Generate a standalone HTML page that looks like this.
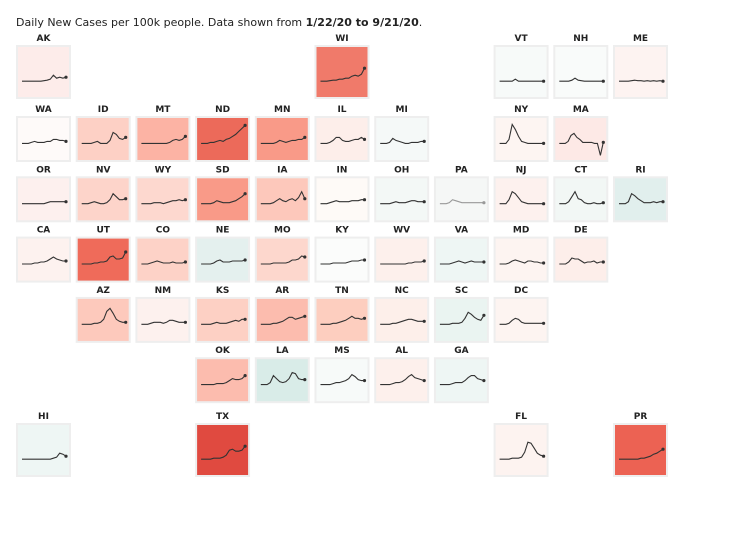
<!DOCTYPE html>
<html><head><meta charset="utf-8"><style>
body{margin:0;background:#fff;width:733px;height:544px;overflow:hidden;font-family:"DejaVu Sans","Liberation Sans",sans-serif}
</style></head><body>
<svg id="chart" width="733" height="544" xmlns="http://www.w3.org/2000/svg">
<text x="16" y="26" font-size="11" fill="#222">Daily New Cases per 100k people. Data shown from <tspan font-weight="bold">1/22/20 to 9/21/20</tspan>.</text>
</svg>
<script>
const states=["AK","WI","VT","NH","ME","WA","ID","MT","ND","MN","IL","MI","NY","MA","OR","NV","WY","SD","IA","IN","OH","PA","NJ","CT","RI","CA","UT","CO","NE","MO","KY","WV","VA","MD","DE","AZ","NM","KS","AR","TN","NC","SC","DC","OK","LA","MS","AL","GA","HI","TX","FL","PR"];
const cols=[0,5,8,9,10,0,1,2,3,4,5,6,8,9,0,1,2,3,4,5,6,7,8,9,10,0,1,2,3,4,5,6,7,8,9,1,2,3,4,5,6,7,8,3,4,5,6,7,0,3,8,10];
const rows=[0,0,0,0,0,1,1,1,1,1,1,1,1,1,2,2,2,2,2,2,2,2,2,2,2,3,3,3,3,3,3,3,3,3,3,4,4,4,4,4,4,4,4,5,5,5,5,5,6,6,6,6];
const fills=["#fdecea","#f07a6a","#f7faf9","#f9fbfa","#fdf3f1","#fefaf9","#fdd0c5","#fcb3a4","#ec6a5a","#f99a88","#fdeeea","#f5f9f8","#fdf5f2","#fde9e6","#fdf0ee","#fdd4ca","#fdd8cf","#f99a88","#fdc8bb","#fefaf7","#f3f8f6","#f5f7f6","#fdf1ee","#f2f7f5","#e1efed","#fdf2ef","#ef6b5a","#fdd2c7","#e4f0ee","#fdd7cd","#fbfcfb","#fdf0ec","#eef6f4","#fdf4f1","#fdeeea","#fdc9bc","#fdf1ee","#fdd0c4","#fcbcae","#fdcebf","#fdefea","#eaf4f1","#fdf4f1","#fcbcae","#d9ece8","#f7faf9","#fdf0ec","#eef6f4","#eef6f4","#e04a40","#fdf3f0","#ec6253"];
const AK=[0,0,0,0,0,0,0,0.5,1,2,6,3,4,3,4];
const WI=[0,0,0,0.5,1,1,2,2,3,3,5,6,5,7,13];
const VT=[0,0,0,0,0,2,0,0,0,0,0,0,0,0,0];
const NH=[0,0,0,0,1,3,1,0.5,0,0,0,0,0,0,0];
const ME=[0,0,0,0,0.5,1,0.5,0.5,0,0.5,0,0.5,0,0.5,0];
const WA=[0,0,0,1,2,1,1,1,2,2,4,4,3,3,2];
const ID=[0,0,0,0,1,2,0,0,0,3,11,9,5,4,6];
const MT=[0,0,0,0,0,0,0,0,0,1,3,4,3,4,7];
const ND=[0,0,0,1,1,2,3,2,4,5,7,9,12,15,18];
const MN=[0,0,0,0,0,1,3,2,1,2,3,3,4,4,6];
const IL=[0,0,0,1,3,6,6,3,2,2,3,4,4,6,4];
const MI=[0,0,0,1,5,3,2,1,0,0,1,1,1,2,2];
const NY=[0,0,0,4,19,14,7,2,1,0,0,0,0,0,0];
const MA=[0,0,0,2,8,10,6,4,1,1,1,1,0,0,-12,1];
const OR=[0,0,0,0,0,0,0,0,1,2,2,2,2,2,2];
const NV=[0,0,0,1,2,1,0,0,1,4,10,7,4,4,5];
const WY=[0,0,0,0,1,1,1,0,1,2,3,3,4,3,4];
const SD=[0,0,0,0,1,3,2,1,1,1,2,3,5,7,10];
const IA=[0,0,0,0,1,3,5,3,2,4,5,3,6,12,5];
const IN=[0,0,0,1,2,3,2,2,2,2,3,3,3,4,4];
const OH=[0,0,0,0,1,2,1,1,1,2,3,3,2,2,2];
const PA=[0,0,0,1,4,3,2,1,1,1,1,1,1,1,1];
const NJ=[0,0,0,4,12,10,6,2,1,0,0,0,0,0,0];
const CT=[0,0,0,2,7,12,5,4,1,0,0,1,0,0,1];
const RI=[0,0,0,2,10,8,5,3,1,1,1,2,1,2,2];
const CA=[0,0,0,0,1,1,2,2,3,5,7,5,4,3,3];
const UT=[0,0,0,0,1,1,2,2,3,7,8,5,5,6,12];
const CO=[0,0,0,1,2,3,2,1,1,1,2,1,1,1,2];
const NE=[0,0,0,0,1,3,4,2,2,2,3,3,3,3,4];
const MO=[0,0,0,0,1,1,1,1,1,2,4,4,5,8,7];
const KY=[0,0,0,0,1,1,1,1,1,2,3,3,3,4,4];
const WV=[0,0,0,0,0,0,0,0,0,1,1,2,2,2,3];
const VA=[0,0,0,0,1,2,3,2,1,2,3,2,2,2,2];
const MD=[0,0,0,1,3,4,3,2,1,3,3,2,2,1,1];
const DE=[0,0,0,2,6,5,5,3,1,2,2,3,1,2,2];
const AZ=[0,0,0,0,1,1,2,5,13,16,11,5,3,2,2];
const NM=[0,0,0,1,2,2,2,1,2,4,4,3,2,2,2];
const KS=[0,0,0,0,1,2,1,1,1,2,3,4,3,5,5];
const AR=[0,0,0,0,1,1,2,3,5,7,7,5,6,7,8];
const TN=[0,0,0,0,1,1,2,3,4,6,8,6,6,5,6];
const NC=[0,0,0,0,1,1,2,3,4,5,5,4,3,3,3];
const SC=[0,0,0,0,1,1,1,2,6,12,10,7,5,4,9];
const DC=[0,0,0,1,4,6,5,2,1,1,1,1,1,1,1];
const OK=[0,0,0,0,0,1,1,1,2,4,6,5,5,6,9];
const LA=[0,0,0,2,9,6,3,2,3,6,12,11,6,5,5];
const MS=[0,0,0,0,1,2,2,3,4,6,10,8,5,4,4];
const AL=[0,0,0,0,1,2,2,3,5,8,10,7,6,5,4];
const GA=[0,0,0,0,1,2,2,2,4,7,9,9,6,5,4];
const HI=[0,0,0,0,0,0,0,0,0,0,1,2,6,5,3];
const TX=[0,0,0,0,1,1,1,2,4,9,10,8,8,9,13];
const FL=[0,0,0,0,1,1,1,2,7,17,16,11,6,4,3];
const PR=[0,0,0,0,0,0,0,1,1,2,3,5,6,8,10];
const series={AK,WI,VT,NH,ME,WA,ID,MT,ND,MN,IL,MI,NY,MA,OR,NV,WY,SD,IA,IN,OH,PA,NJ,CT,RI,CA,UT,CO,NE,MO,KY,WV,VA,MD,DE,AZ,NM,KS,AR,TN,NC,SC,DC,OK,LA,MS,AL,GA,HI,TX,FL,PR};

const NS="http://www.w3.org/2000/svg";
const svg=document.getElementById('chart');
function colX(c){return 17+59.7*c;}
function rowY(r){if(r===0)return 46;if(r===6)return 424;return 117+60.3*(r-1);}
function rowH(r){return (r===0||r===6)?52:44;}
function mk(t,a){const e=document.createElementNS(NS,t);for(const k in a)e.setAttribute(k,a[k]);return e;}
states.forEach((s,i)=>{
  const x=colX(cols[i]),y=rowY(rows[i]),h=rowH(rows[i]),w=53;
  const g=mk('g',{});
  
  
  const lab=mk('text',{x:x+w/2,y:y-5,'text-anchor':'middle','font-size':'9','font-weight':'bold',fill:'#222'});
  lab.textContent=s;
  
  
  g.appendChild(lab);
  const border=mk('rect',{x:x,y:y,width:w,height:h,fill:fills[i],stroke:'#eeeeee','stroke-width':'2'});
  
  
  g.appendChild(border);
  const d=series[s],n=d.length;
  const base=y+h*0.6+(h>44?4:0);
  const xs=j=>x+5+j*(44/(n-1));
  const ys=v=>base-v;
  let p='';d.forEach((v,j)=>{p+=(j?'L':'M')+xs(j).toFixed(1)+','+ys(v).toFixed(1);});
  const col=s==='PA'?'#999':'#333';
  const line=mk('path',{d:p,fill:'none',stroke:col,'stroke-width':'1.1'});
  
  
  g.appendChild(line);
  const dot=mk('circle',{cx:xs(n-1),cy:ys(d[n-1]),r:1.6,fill:col});
  
  
  g.appendChild(dot);
  svg.appendChild(g);
});
</script>
</body></html>
